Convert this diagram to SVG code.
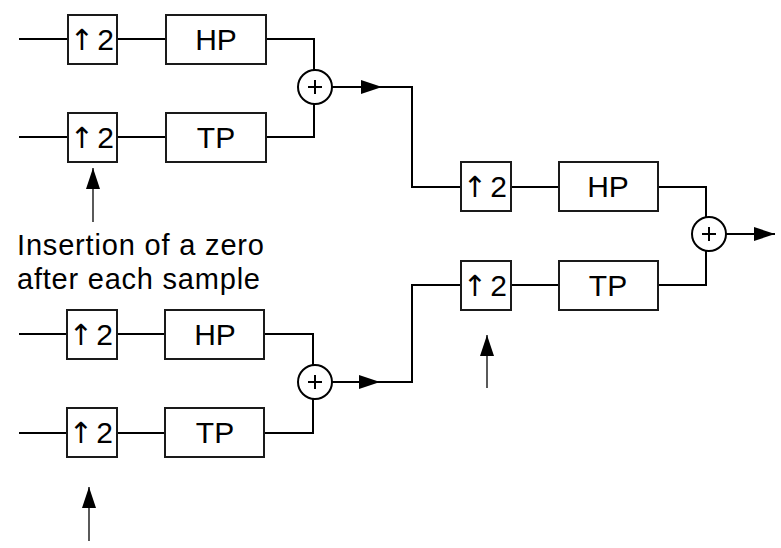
<svg xmlns="http://www.w3.org/2000/svg" width="781" height="548" viewBox="0 0 781 548">
<defs>
<style>
.box{fill:#fff;stroke:#1a1a1a;stroke-width:2}
.sum{fill:#fff;stroke:#000;stroke-width:2}
.w{fill:none;stroke:#000;stroke-width:2}
.thin{fill:none;stroke:#000;stroke-width:1.3}
.lbl{font-family:"Liberation Sans",Arial,sans-serif;font-size:30px;fill:#000;text-anchor:middle}
.up{font-family:"Liberation Sans",Arial,sans-serif;font-size:30px;fill:#000;text-anchor:middle}
.ar{font-family:"DejaVu Sans",sans-serif;font-size:29px}
.note{font-family:"Liberation Sans",Arial,sans-serif;font-size:29px;fill:#000}
</style>
<marker id="ah" markerUnits="userSpaceOnUse" markerWidth="21" markerHeight="14" refX="21" refY="7" orient="auto">
<path d="M0,0 L21,7 L0,14 z" fill="#000"/>
</marker>
</defs>
<rect width="781" height="548" fill="#fff"/>

<g id="connectors">
<path class="w" d="M19,39 H68 M117,39 H166 M266,39 H314 V70"/>
<path class="w" d="M19,137 H68 M117,137 H166 M266,137 H314 V104"/>
<path class="w" d="M332,87 H382" marker-end="url(#ah)"/>
<path class="w" d="M380,87 H412 V187 H461 M511,187 H559 M658,187 H706 V217"/>
<path class="w" d="M19,334 H67 M117,334 H165 M264,334 H313 V365"/>
<path class="w" d="M19,433 H67 M117,433 H165 M264,433 H313 V399"/>
<path class="w" d="M332,382 H380" marker-end="url(#ah)"/>
<path class="w" d="M378,382 H412 V285 H461 M511,285 H559 M658,285 H706 V251"/>
<path class="w" d="M726,234 H775" marker-end="url(#ah)"/>
<path class="thin" d="M93,222 V168" marker-end="url(#ah)"/>
<path class="thin" d="M89,541 V487" marker-end="url(#ah)"/>
<path class="thin" d="M487,388 V335" marker-end="url(#ah)"/>
</g>

<g id="up1"><rect class="box" x="68" y="15" width="49" height="49"/><text class="up" y="50"><tspan class="ar" x="82">↑</tspan><tspan x="105.5">2</tspan></text></g>
<g id="hp1"><rect class="box" x="166" y="15" width="100" height="49"/><text class="lbl" x="216" y="50">HP</text></g>
<g id="up2"><rect class="box" x="68" y="113" width="49" height="49"/><text class="up" y="148"><tspan class="ar" x="82">↑</tspan><tspan x="105.5">2</tspan></text></g>
<g id="tp1"><rect class="box" x="166" y="113" width="100" height="49"/><text class="lbl" x="216" y="148">TP</text></g>
<g id="sum1"><circle class="sum" cx="315" cy="87" r="17"/><path class="w" d="M308,87 H322 M315,80 V94"/></g>

<g id="up3"><rect class="box" x="67" y="310" width="50" height="49"/><text class="up" y="345"><tspan class="ar" x="81">↑</tspan><tspan x="104.5">2</tspan></text></g>
<g id="hp2"><rect class="box" x="165" y="310" width="99" height="49"/><text class="lbl" x="215" y="345">HP</text></g>
<g id="up4"><rect class="box" x="67" y="408" width="50" height="49"/><text class="up" y="443"><tspan class="ar" x="81">↑</tspan><tspan x="104.5">2</tspan></text></g>
<g id="tp2"><rect class="box" x="165" y="408" width="99" height="49"/><text class="lbl" x="215" y="443">TP</text></g>
<g id="sum2"><circle class="sum" cx="315" cy="382" r="17"/><path class="w" d="M308,382 H322 M315,375 V389"/></g>

<g id="up5"><rect class="box" x="461" y="162" width="50" height="49"/><text class="up" y="197"><tspan class="ar" x="475">↑</tspan><tspan x="498.5">2</tspan></text></g>
<g id="hp3"><rect class="box" x="559" y="162" width="99" height="49"/><text class="lbl" x="608" y="197">HP</text></g>
<g id="up6"><rect class="box" x="461" y="261" width="50" height="49"/><text class="up" y="296"><tspan class="ar" x="475">↑</tspan><tspan x="498.5">2</tspan></text></g>
<g id="tp3"><rect class="box" x="559" y="261" width="99" height="49"/><text class="lbl" x="608" y="296">TP</text></g>
<g id="sum3"><circle class="sum" cx="709" cy="234" r="17"/><path class="w" d="M702,234 H716 M709,227 V241"/></g>

<g id="note">
<text class="note" x="17" y="255" textLength="247" lengthAdjust="spacing">Insertion of a zero</text>
<text class="note" x="17" y="289" textLength="243" lengthAdjust="spacing">after each sample</text>
</g>
</svg>
